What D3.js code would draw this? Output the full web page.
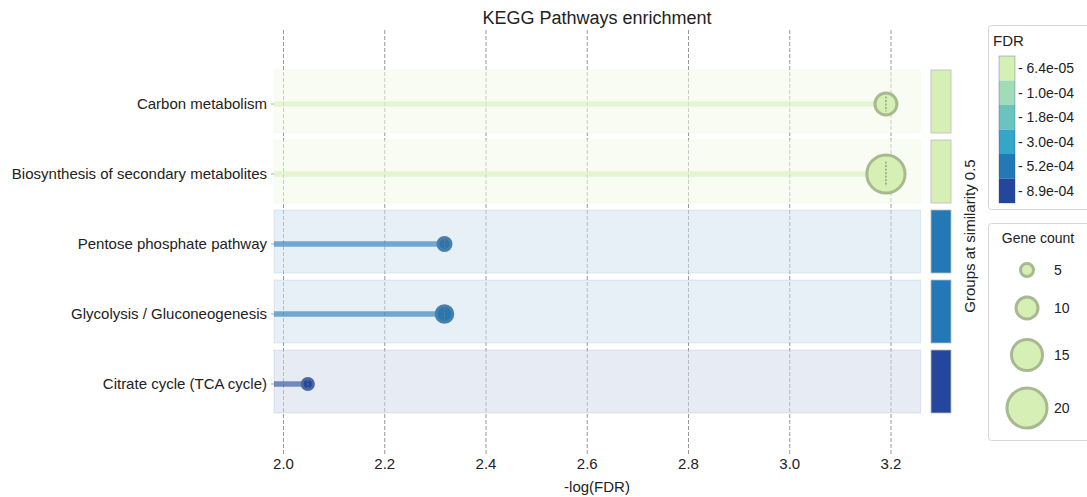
<!DOCTYPE html>
<html><head><meta charset="utf-8">
<script src="https://cdn.jsdelivr.net/npm/d3@7"></script>
<style>body{margin:0;background:#fff;font-family:"Liberation Sans",Arial,sans-serif;}</style>
</head><body><svg id="c" width="1087" height="497"></svg>
<script>
const pathways = ["Carbon metabolism","Biosynthesis of secondary metabolites","Pentose phosphate pathway","Glycolysis / Gluconeogenesis","Citrate cycle (TCA cycle)"];
const logFDR = [3.19, 3.19, 2.318, 2.318, 2.048];
const geneCount = [10, 19, 5, 7, 4];
const colorIndex = [0, 0, 4, 4, 5];
const fdrLabels = ["6.4e-05","1.0e-04","1.8e-04","3.0e-04","5.2e-04","8.9e-04"];
const fdrColors = ["#d5efb4","#a2dbb8","#6ac3be","#36a6c8","#2378b6","#24479d"];
const strokeColors = ["#a8b990","#a8b990","#4b7fa7","#4b7fa7","#4d679e"];
const xTicks = [2.0, 2.2, 2.4, 2.6, 2.8, 3.0, 3.2];
const sizeLegend = [5, 10, 15, 20];

const svg = d3.select("#c");
const x = d3.scaleLinear().domain([2.0, 3.2]).range([283.5, 891]);
const xLeft = 274, xRight = 920.5;
const y = d3.scalePoint().domain(pathways).range([104, 384]);
const r = d3.scaleLinear().domain([5, 20]).range([8, 21.5]);

// title
svg.append("text").attr("x", 597).attr("y", 24).attr("text-anchor","middle")
  .style("font-size","18px").attr("fill","#222").text("KEGG Pathways enrichment");

// grid
svg.append("g").selectAll("line").data(xTicks).join("line")
  .attr("x1", d=>x(d)).attr("x2", d=>x(d)).attr("y1", 30).attr("y2", 455)
  .attr("stroke","#999").attr("stroke-width",1).attr("stroke-dasharray","4,2");

// bands (white veil softens the grid, then tinted fill)
svg.append("g").selectAll("rect").data(pathways).join("rect")
  .attr("x", xLeft).attr("width", xRight - xLeft)
  .attr("y", d=>y(d)-34).attr("height", 63)
  .attr("fill", "#fff").attr("fill-opacity", 0.45);
svg.append("g").selectAll("rect").data(pathways).join("rect")
  .attr("x", xLeft).attr("width", xRight - xLeft)
  .attr("y", d=>y(d)-34).attr("height", 63)
  .attr("fill", (d,i)=>fdrColors[colorIndex[i]]).attr("fill-opacity", (d,i)=>colorIndex[i]===0?0.16:0.11)
  .attr("stroke", (d,i)=>fdrColors[colorIndex[i]]).attr("stroke-opacity",0.12);

// y labels
svg.append("g").selectAll("text").data(pathways).join("text")
  .attr("x", 267).attr("y", d=>y(d)).attr("dy","0.35em").attr("text-anchor","end")
  .style("font-size","15px").attr("fill","#222").text(d=>d);
svg.append("g").selectAll("line").data(pathways).join("line")
  .attr("x1", 271).attr("x2", 274).attr("y1", d=>y(d)).attr("y2", d=>y(d))
  .attr("stroke","#aaa");

// lollipop stems
svg.append("g").selectAll("line").data(pathways).join("line")
  .attr("x1", xLeft).attr("x2", (d,i)=>x(logFDR[i]))
  .attr("y1", d=>y(d)).attr("y2", d=>y(d))
  .attr("stroke", (d,i)=>fdrColors[colorIndex[i]]).attr("stroke-opacity",(d,i)=>colorIndex[i]===0?0.55:0.6)
  .attr("stroke-width", 5.5);

// circles
svg.append("g").selectAll("circle").data(pathways).join("circle")
  .attr("cx", (d,i)=>x(logFDR[i])).attr("cy", d=>y(d)).attr("r", (d,i)=>r(geneCount[i]) - 1.5)
  .attr("fill", (d,i)=>fdrColors[colorIndex[i]]).attr("stroke", (d,i)=>strokeColors[i]).attr("stroke-width", 3);
svg.append("g").selectAll("line").data(pathways).join("line")
  .attr("x1", (d,i)=>x(logFDR[i])).attr("x2", (d,i)=>x(logFDR[i]))
  .attr("y1", (d,i)=>y(d)-r(geneCount[i])*0.6).attr("y2", (d,i)=>y(d)+r(geneCount[i])*0.6)
  .attr("stroke","#777").attr("stroke-width",1).attr("stroke-dasharray","2,1.5");

// group bars
svg.append("g").selectAll("rect").data(pathways).join("rect")
  .attr("x", 931).attr("width", 20).attr("y", d=>y(d)-34).attr("height", 63)
  .attr("fill", (d,i)=>fdrColors[colorIndex[i]]).attr("stroke","#bbb").attr("stroke-width",0.8);
svg.append("text").attr("transform","translate(975,236) rotate(-90)").attr("text-anchor","middle")
  .style("font-size","15px").attr("fill","#222").text("Groups at similarity 0.5");

// x axis
svg.append("g").selectAll("text").data(xTicks).join("text")
  .attr("x", d=>x(d)).attr("y", 469).attr("text-anchor","middle")
  .style("font-size","15px").attr("fill","#222").text(d=>d.toFixed(1));
svg.append("text").attr("x", 597).attr("y", 492).attr("text-anchor","middle")
  .style("font-size","15px").attr("fill","#222").text("-log(FDR)");

// FDR legend
const lg = svg.append("g");
lg.append("rect").attr("x",988.5).attr("y",25.5).attr("width",110).attr("height",184).attr("rx",3)
  .attr("fill","#fff").attr("stroke","#d6d6d6");
lg.append("text").attr("x",993).attr("y",46).style("font-size","15px").attr("fill","#222").text("FDR");
const bh = 24.5;
lg.selectAll("rect.b").data(fdrColors).join("rect").attr("class","b")
  .attr("x",999).attr("width",16).attr("y",(d,i)=>56+i*bh).attr("height",bh).attr("fill",d=>d);
lg.append("rect").attr("x",999).attr("y",56).attr("width",16).attr("height",bh*6)
  .attr("fill","none").attr("stroke","#1f3c8c").attr("stroke-width",0.6).attr("stroke-opacity",0.5);
lg.selectAll("text.t").data(fdrLabels).join("text").attr("class","t")
  .attr("x",1018).attr("y",(d,i)=>56+i*bh+bh/2).attr("dy","0.35em")
  .style("font-size","14px").attr("fill","#222").text(d=>"- "+d);

// Gene count legend
const sg = svg.append("g");
sg.append("rect").attr("x",988.5).attr("y",223.5).attr("width",110).attr("height",217).attr("rx",3)
  .attr("fill","#fff").attr("stroke","#d6d6d6");
sg.append("text").attr("x",1038).attr("y",243).attr("text-anchor","middle").style("font-size","14px").attr("fill","#222").text("Gene count");
const ly = [270, 308, 355, 408];
sg.selectAll("circle").data(sizeLegend).join("circle")
  .attr("cx",1027).attr("cy",(d,i)=>ly[i]).attr("r",d=>r(d)-1.5)
  .attr("fill",fdrColors[0]).attr("stroke","#a8b990").attr("stroke-width",3);
sg.selectAll("text.s").data(sizeLegend).join("text").attr("class","s")
  .attr("x",1054).attr("y",(d,i)=>ly[i]).attr("dy","0.35em")
  .style("font-size","14px").attr("fill","#222").text(d=>d);
</script></body></html>
